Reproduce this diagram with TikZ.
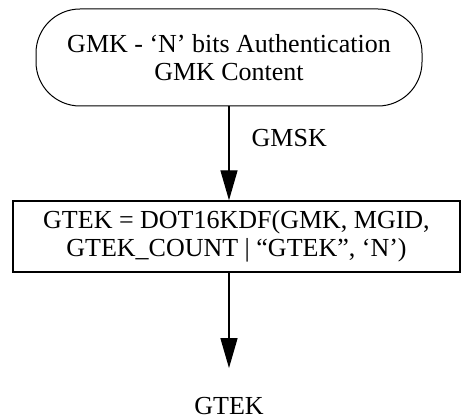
\documentclass[tikz,border=0pt]{standalone}
\usepackage{fontspec}
\setmainfont{Liberation Serif}
\usetikzlibrary{arrows.meta}

\begin{document}
\begin{tikzpicture}[x=1pt,y=-1pt]
    \tikzstyle{startbox}=[draw,line width=1pt,rounded corners=44pt,align=center,
      minimum width=386pt,minimum height=97pt,inner sep=0pt]
    \tikzstyle{kdfbox}=[draw,line width=1.4pt,align=center,
      minimum width=447pt,minimum height=71pt,inner sep=0pt]
    \tikzstyle{flow}=[line width=1.4pt,-{Triangle[length=30pt,width=17pt]}]
    \useasboundingbox (0,0) rectangle (461,419);
    \fontsize{26}{28}\selectfont
    \node[startbox] at (229,57.5) (gmk) {GMK - ‘N’ bits Authentication\\GMK Content};
    \node[kdfbox] at (236.5,236.5) (kdf) {GTEK = DOT16KDF(GMK, MGID,\\GTEK\_COUNT | “GTEK”, ‘N’)};
    \node[inner sep=0pt] at (229,406) (gtek) {GTEK};
    \draw[flow] (gmk.south) -- node[pos=.34,anchor=west,xshift=22pt,inner sep=0pt]{GMSK} (gmk.south |- kdf.north);
    \draw[flow,shorten >=29pt] (gtek |- kdf.south) -- (gtek.north);
\end{tikzpicture}
\end{document}
